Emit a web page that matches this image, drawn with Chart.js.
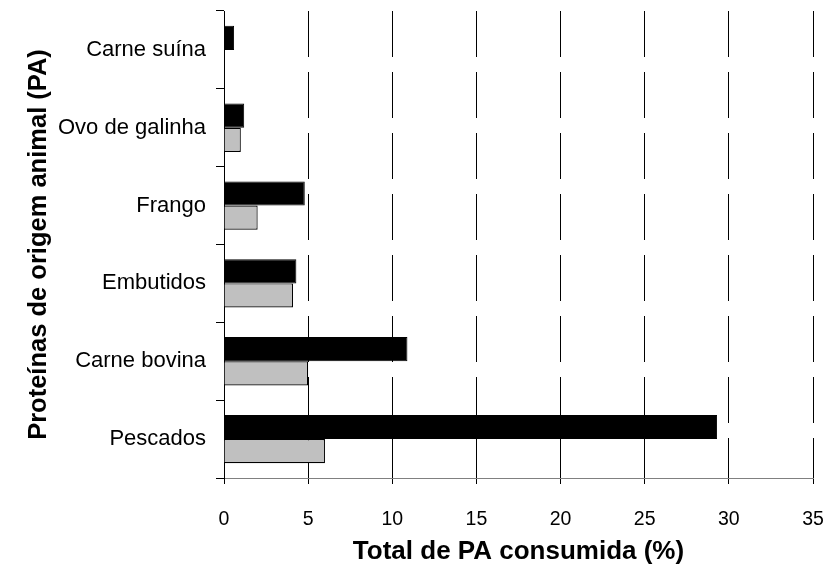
<!DOCTYPE html>
<html>
<head>
<meta charset="utf-8">
<script src="https://cdn.jsdelivr.net/npm/chart.js@4/dist/chart.umd.min.js"></script>
<style>
  html, body { margin: 0; padding: 0; background: #ffffff; }
  #wrap { width: 827px; height: 569px; }
</style>
</head>
<body>
<div id="wrap"><canvas id="c" width="827" height="569"></canvas></div>
<script>
const categories = ['Carne suína', 'Ovo de galinha', 'Frango', 'Embutidos', 'Carne bovina', 'Pescados'];
const seriesBlack = [0.6, 1.2, 4.8, 4.3, 10.9, 29.3];
const seriesGray = [null, 1.0, 2.0, 4.1, 5.0, 6.0];
const xTickValues = [0, 5, 10, 15, 20, 25, 30, 35];
const xTitle = 'Total de PA consumida (%)';
const yTitle = 'Proteínas de origem animal (PA)';

const FONT = "'Liberation Sans', Arial, sans-serif";

new Chart(document.getElementById('c'), {
  type: 'bar',
  data: {
    labels: categories,
    datasets: [
      {
        data: seriesBlack,
        backgroundColor: '#000000',
        borderColor: '#000000',
        borderWidth: 1,
        categoryPercentage: 0.62,
        barPercentage: 1.0
      },
      {
        data: seriesGray,
        backgroundColor: '#c0c0c0',
        borderColor: '#000000',
        borderWidth: 1.2,
        categoryPercentage: 0.62,
        barPercentage: 1.0
      }
    ]
  },
  options: {
    indexAxis: 'y',
    responsive: false,
    devicePixelRatio: 1,
    animation: false,
    layout: { padding: { top: 11, right: 14, bottom: 0, left: 0 } },
    plugins: {
      legend: { display: false },
      tooltip: { enabled: false },
      title: { display: false }
    },
    scales: {
      x: {
        type: 'linear',
        min: 0,
        max: 35,
        afterBuildTicks: (scale) => { scale.ticks = xTickValues.map(v => ({ value: v })); },
        afterFit: (scale) => {
          scale.height = 91;
          scale.paddingLeft = 0;
          scale.paddingRight = 0;
        },
        grid: {
          color: '#000000',
          lineWidth: 1,
          drawTicks: true,
          tickLength: 6,
          tickColor: '#000000',
          tickBorderDash: []
        },
        border: { display: true, color: '#808080', width: 1, dash: [46, 15] },
        ticks: {
          color: '#000000',
          font: { family: FONT, size: 19.5 },
          padding: 24,
          maxRotation: 0
        },
        title: {
          display: true,
          text: xTitle,
          color: '#000000',
          font: { family: FONT, size: 26, weight: 'bold' },
          padding: { top: 0, bottom: 2 }
        }
      },
      y: {
        afterFit: (scale) => {
          scale.width = 224;
          scale.paddingTop = 0;
          scale.paddingBottom = 0;
        },
        grid: {
          drawOnChartArea: false,
          drawTicks: true,
          tickLength: 8,
          tickColor: '#000000',
          offset: true
        },
        border: { display: true, color: '#000000', width: 1 },
        ticks: {
          color: '#000000',
          font: { family: FONT, size: 22 },
          padding: 10
        },
        title: {
          display: true,
          text: yTitle,
          color: '#000000',
          font: { family: FONT, size: 25.5, weight: 'bold' },
          padding: { top: 24, bottom: 0 }
        }
      }
    }
  }
});
</script>
</body>
</html>
